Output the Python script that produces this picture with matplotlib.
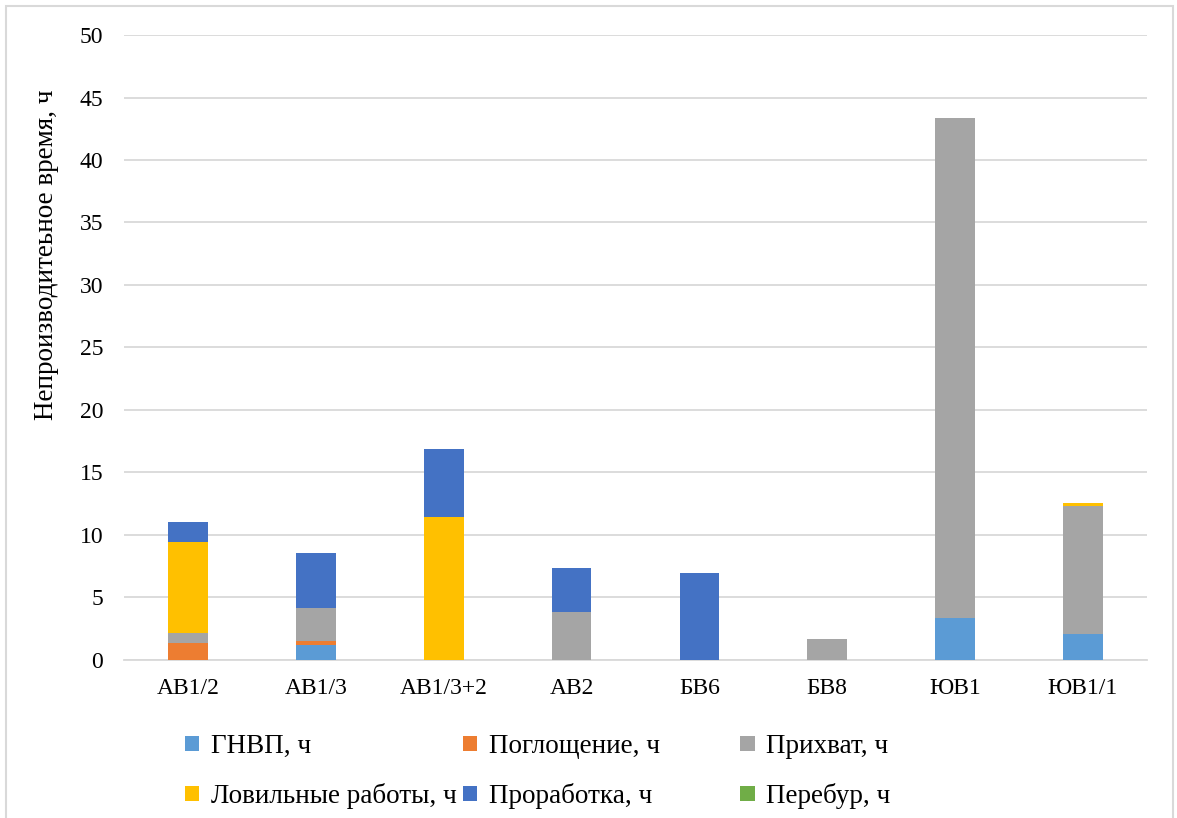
import matplotlib.pyplot as plt
import numpy as np
from matplotlib.patches import Rectangle

plt.rcParams['font.family'] = ['Liberation Serif', 'DejaVu Serif']

wells = ["АВ1/2", "АВ1/3", "АВ1/3+2", "АВ2", "БВ6", "БВ8", "ЮВ1", "ЮВ1/1"]

gnvp = [0, 1.23, 0, 0, 0, 0, 3.39, 2.05]
pogl = [1.38, 0.27, 0, 0, 0, 0, 0, 0]
prihvat = [0.75, 2.66, 0, 3.84, 0, 1.7, 39.97, 10.3]
lovil = [7.27, 0, 11.44, 0, 0, 0, 0, 0.23]
prorab = [1.63, 4.37, 5.44, 3.52, 6.92, 0, 0, 0]
perebur = [0, 0, 0, 0, 0, 0, 0, 0]

series = [
    ("ГНВП, ч", gnvp, "#5B9BD5"),
    ("Поглощение, ч", pogl, "#ED7D31"),
    ("Прихват, ч", prihvat, "#A5A5A5"),
    ("Ловильные работы, ч", lovil, "#FFC000"),
    ("Проработка, ч", prorab, "#4472C4"),
    ("Перебур, ч", perebur, "#70AD47"),
]

fig = plt.figure(figsize=(11.77, 8.18), dpi=100)
ax = fig.add_axes([0.1054, 0.1932, 0.869, 0.764])

x = np.arange(len(wells))
bottom = np.zeros(len(wells))
handles = []
for name, vals, color in series:
    b = ax.bar(x, vals, 0.31, bottom=bottom, color=color, label=name, zorder=3)
    handles.append(b)
    bottom += np.array(vals)

ax.set_xlim(-0.5, len(wells) - 0.5)
ax.set_ylim(0, 50)
ax.set_yticks(range(0, 51, 5))
ax.set_xticks(x)
ax.set_xticklabels(wells)
ax.tick_params(length=0, labelsize=17, colors="black")
ax.tick_params(axis="y", pad=15)
ax.tick_params(axis="x", pad=13)
ax.yaxis.grid(True, color="#d9d9d9", linewidth=1.3, zorder=0)
for s in ["top", "right", "left"]:
    ax.spines[s].set_visible(False)
ax.spines["bottom"].set_color("#d9d9d9")
ax.spines["bottom"].set_linewidth(1.3)
ax.set_ylabel("Непроизводитеьное время, ч", fontsize=19.5)
ax.yaxis.set_label_coords(-0.064, 0.648)

# legend: three columns placed like the original
col_x = [0.1457, 0.3815, 0.6176]
for i in range(3):
    hs = [handles[i], handles[i + 3]]
    labs = [series[i][0], series[i + 3][0]]
    fig.legend(hs, labs, loc="upper left", bbox_to_anchor=(col_x[i], 0.119),
               frameon=False, fontsize=19.5, handlelength=0.52, handleheight=0.52,
               handletextpad=0.44, labelspacing=0.88, borderpad=0)

# figure frame
fig.patches.append(Rectangle((0.005, -0.05), 0.992, 1.043, transform=fig.transFigure,
                             fill=False, edgecolor="#d9d9d9", linewidth=1.5))

fig.savefig("out.png", dpi=100)
